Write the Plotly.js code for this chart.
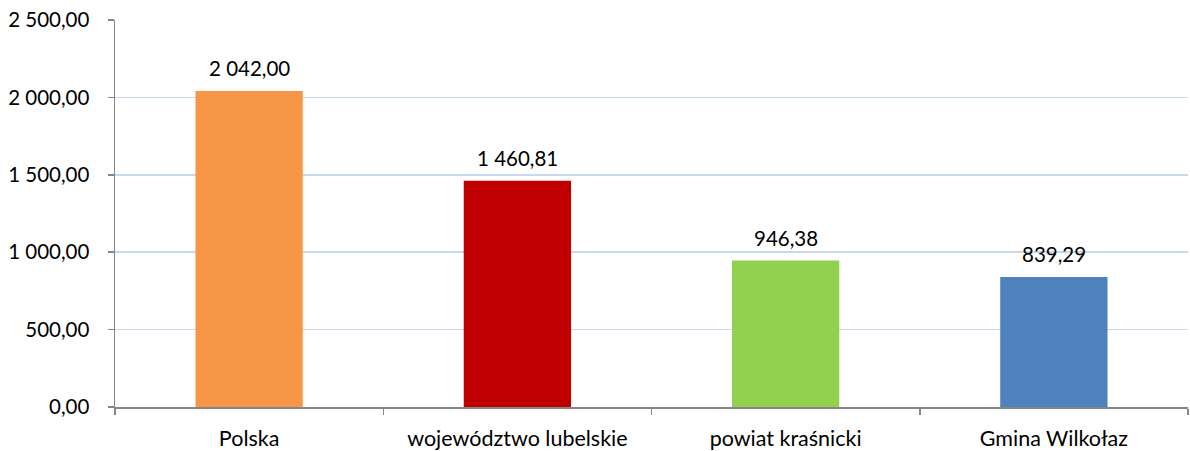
<!DOCTYPE html>
<html>
<head>
<meta charset="utf-8">
<script src="https://cdn.plot.ly/plotly-3.0.1.min.js"></script>
<style>html,body{margin:0;padding:0;background:#fff;}#chart{width:1190px;height:451px;}</style>
</head>
<body>
<div id="chart"></div>
<script>
const categories = ["Polska", "województwo lubelskie", "powiat kraśnicki", "Gmina Wilkołaz"];
const values = [2042.00, 1460.81, 946.38, 839.29];
const barColors = ["#F79646", "#C00000", "#92D050", "#4F81BD"];
const tickValues = [0, 500, 1000, 1500, 2000, 2500];

const family = "Lato, 'Open Sans', sans-serif";
const yFont = {family: family, size: 20.5, color: "#000"};
const xFont = {family: family, size: 21.5, color: "#000"};
const labelFont = {family: family, size: 20.5, color: "#000"};

const fmt = v => v.toFixed(2).replace(".", ",").replace(/\B(?=(\d{3})+(?!\d))/g, " ");

const annotations = categories.map((c, i) => ({
  x: c, y: values[i], xref: "x", yref: "y",
  text: fmt(values[i]),
  showarrow: false,
  yanchor: "bottom",
  yshift: 9,
  font: labelFont
}));

Plotly.newPlot("chart", [{
  type: "bar",
  x: categories,
  y: values,
  marker: {color: barColors},
  width: 0.4,
  hoverinfo: "none"
}], {
  width: 1190,
  height: 451,
  margin: {l: 115, r: 2, t: 20, b: 44},
  separators: ", ",
  paper_bgcolor: "#fff",
  plot_bgcolor: "#fff",
  font: yFont,
  showlegend: false,
  annotations: annotations,
  xaxis: {
    type: "category",
    showline: true,
    linecolor: "#868686",
    linewidth: 1.5,
    ticks: "outside",
    tickson: "boundaries",
    ticklen: 6,
    tickcolor: "#868686",
    tickwidth: 1.5,
    showgrid: false,
    tickfont: xFont,
    ticklabelstandoff: 12,
    fixedrange: true
  },
  yaxis: {
    range: [0, 2500],
    tickvals: tickValues,
    tickformat: ",.2f",
    showline: true,
    linecolor: "#868686",
    linewidth: 1.5,
    ticks: "outside",
    ticklen: 6,
    tickcolor: "#868686",
    tickwidth: 1.5,
    gridcolor: "#C6D9F1",
    gridwidth: 1.5,
    zeroline: false,
    tickfont: yFont,
    ticklabelstandoff: 14,
    fixedrange: true
  }
}, {staticPlot: true});
</script>
</body>
</html>
